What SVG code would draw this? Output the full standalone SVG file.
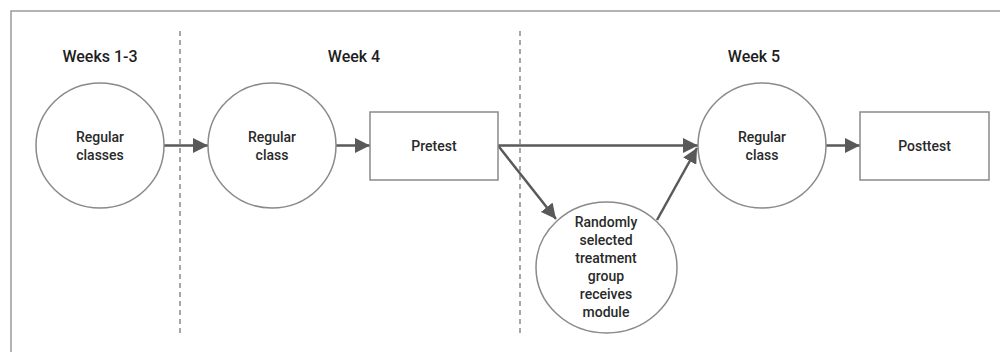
<svg xmlns="http://www.w3.org/2000/svg" width="1000" height="352" viewBox="0 0 1000 352">
<defs>
<style>
.node{fill:#fff;stroke:#8a8a8a;stroke-width:1.5}
.t{font-family:Roboto,"Liberation Sans",sans-serif;font-size:14px;font-weight:500;fill:#2a2a2a;text-anchor:middle}
.h{font-family:Roboto,"Liberation Sans",sans-serif;font-size:16px;font-weight:500;fill:#1e1e1e;text-anchor:middle}
.c{stroke:#595959;stroke-width:2.5;fill:none;marker-end:url(#ah)}
.d{stroke:#8a8a8a;stroke-width:1.5;stroke-dasharray:5,4}
</style>
<marker id="ah" viewBox="0 0 10 10" refX="10" refY="5" markerWidth="6" markerHeight="6" orient="auto"><path d="M0,0 L10,5 L0,10 z" fill="#595959"/></marker>
</defs>
<rect width="1000" height="352" fill="#fff"/>
<rect x="11" y="11" width="1000" height="360" fill="none" stroke="#9a9a9a" stroke-width="1.5"/>
<g id="dividers">
<line class="d" x1="180" y1="31" x2="180" y2="337"/>
<line class="d" x1="520" y1="31" x2="520" y2="337"/>
</g>
<g id="headers">
<text class="h" x="100" y="62">Weeks 1-3</text>
<text class="h" x="354" y="62">Week 4</text>
<text class="h" x="754" y="62">Week 5</text>
</g>
<g id="connectors">
<line class="c" x1="164" y1="145.5" x2="208" y2="145.5"/>
<line class="c" x1="336" y1="145.5" x2="370" y2="145.5"/>
<line class="c" x1="498" y1="145.5" x2="698" y2="145.5"/>
<line class="c" x1="498" y1="145.5" x2="556" y2="219"/>
<line class="c" x1="657" y1="220" x2="697" y2="148"/>
<line class="c" x1="826" y1="145.5" x2="860" y2="145.5"/>
</g>
<g id="regular-classes">
<ellipse class="node" cx="100" cy="145.5" rx="64" ry="62.5"/>
<text class="t" x="100" y="142">Regular</text>
<text class="t" x="100" y="160">classes</text>
</g>
<g id="regular-class-4">
<ellipse class="node" cx="272" cy="145.5" rx="64" ry="62.5"/>
<text class="t" x="272" y="142">Regular</text>
<text class="t" x="272" y="160">class</text>
</g>
<g id="pretest">
<rect class="node" x="370" y="112" width="128" height="68"/>
<text class="t" x="434" y="151">Pretest</text>
</g>
<g id="treatment">
<ellipse class="node" cx="606.5" cy="267.5" rx="70.5" ry="65.5"/>
<text class="t" x="606" y="227">Randomly</text>
<text class="t" x="606" y="245">selected</text>
<text class="t" x="606" y="263">treatment</text>
<text class="t" x="606" y="281">group</text>
<text class="t" x="606" y="299">receives</text>
<text class="t" x="606" y="317">module</text>
</g>
<g id="regular-class-5">
<ellipse class="node" cx="762" cy="145.5" rx="64" ry="62.5"/>
<text class="t" x="762" y="142">Regular</text>
<text class="t" x="762" y="160">class</text>
</g>
<g id="posttest">
<rect class="node" x="860" y="112" width="129" height="68"/>
<text class="t" x="924.5" y="151">Posttest</text>
</g>
</svg>
